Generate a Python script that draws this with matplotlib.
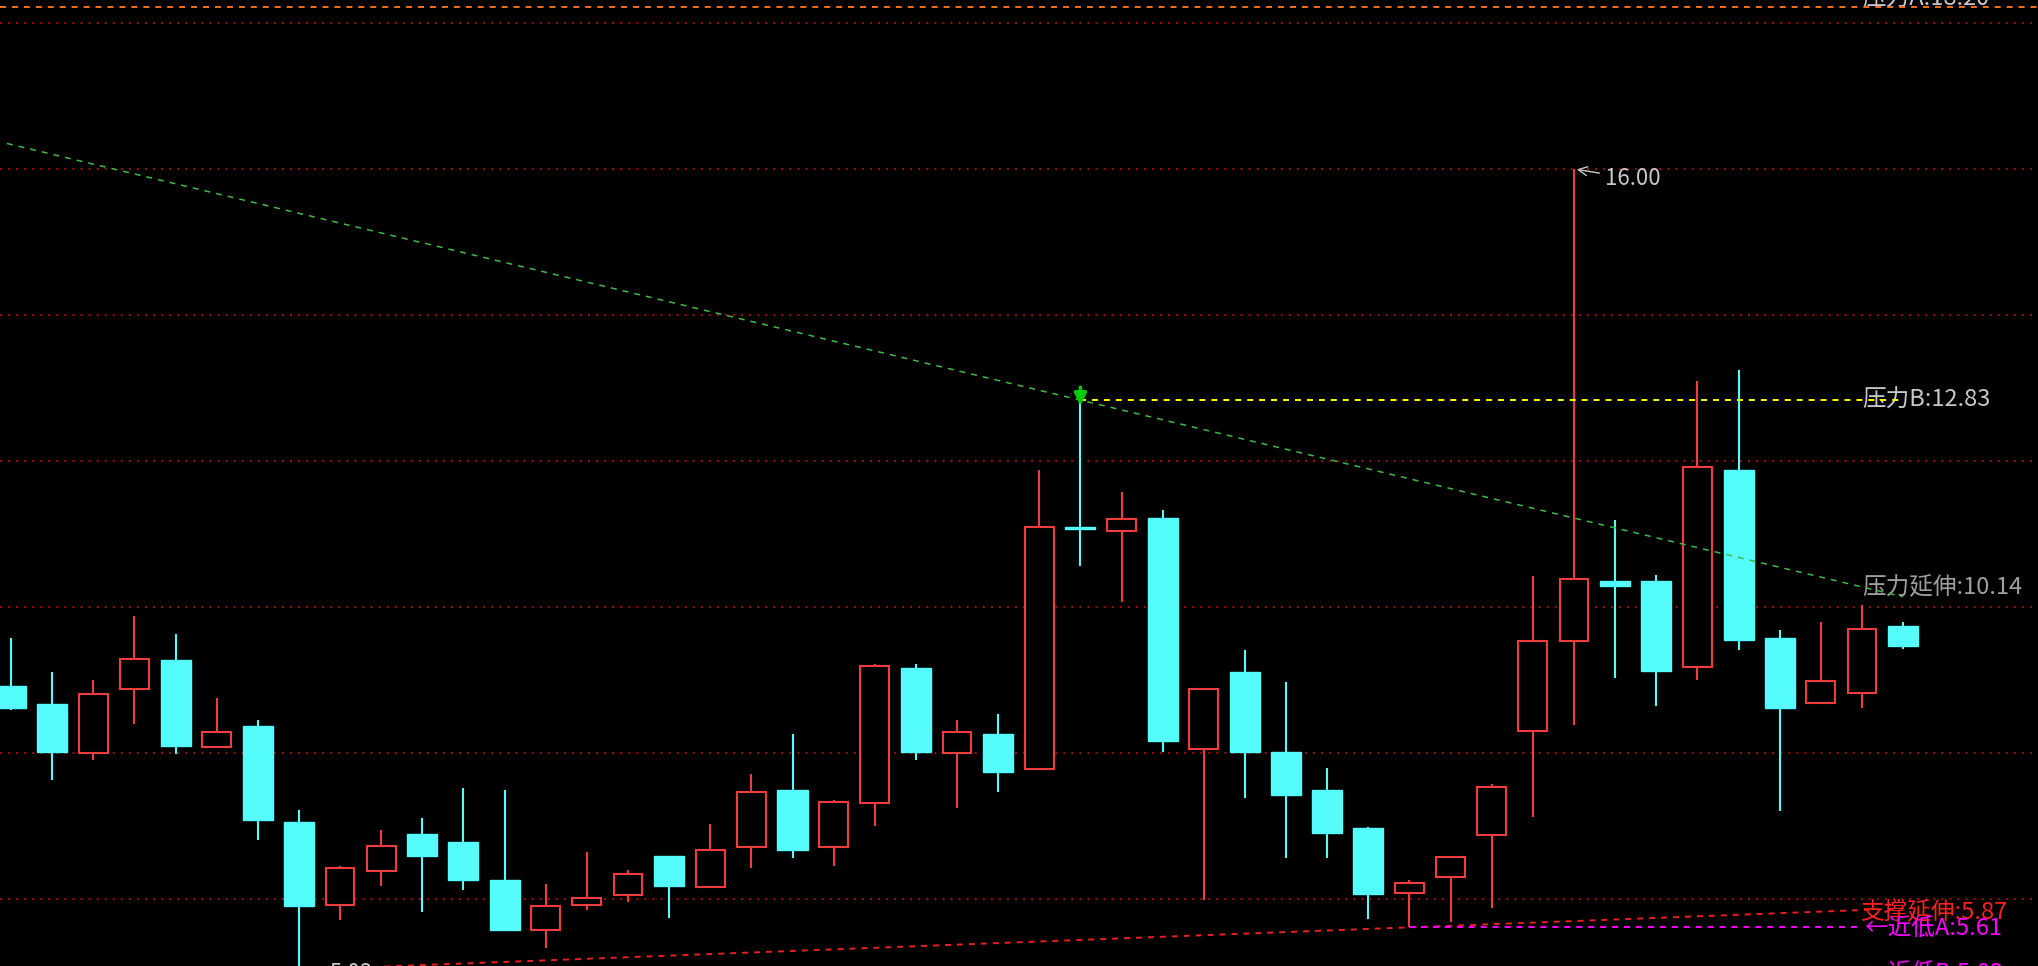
import numpy as np
import matplotlib
matplotlib.use("Agg")
import matplotlib.pyplot as plt

plt.rcParams['font.family'] = ['Noto Sans CJK SC', 'DejaVu Sans']
plt.rcParams['lines.scale_dashes'] = False

# daily candles
opens = [8.92, 8.67, 8.00, 8.88, 9.27, 8.08, 8.37, 7.05, 5.92, 6.38,
         6.89, 6.78, 6.26, 5.58, 5.92, 6.05, 6.59, 6.16, 6.71, 7.49,
         6.71, 7.32, 9.16, 8.00, 8.26, 7.78, 11.08, 11.04, 11.22, 8.05,
         9.11, 8.01, 7.49, 6.97, 6.08, 6.30, 6.87, 8.30, 9.53, 10.36,
         10.36, 9.18, 11.88, 9.58, 8.68, 8.82, 9.74]
highs = [9.58, 9.11, 9.00, 9.88, 9.63, 8.75, 8.45, 7.22, 6.45, 6.95,
         7.11, 7.52, 7.49, 6.21, 6.64, 6.40, 6.59, 7.03, 7.71, 8.26,
         7.36, 9.22, 9.22, 8.45, 8.53, 11.88, 12.83, 11.58, 11.33, 8.88,
         9.41, 8.97, 7.79, 6.99, 6.26, 6.58, 7.58, 10.42, 16.00, 11.19,
         10.44, 13.10, 13.25, 9.69, 9.79, 10.03, 9.79]
lows = [8.59, 7.63, 7.90, 8.40, 7.99, 8.08, 6.81, 5.03, 5.71, 6.18,
        5.82, 6.12, 5.56, 5.33, 5.85, 5.96, 5.74, 6.16, 6.42, 6.56,
        6.45, 7.00, 7.90, 7.25, 7.47, 7.78, 10.56, 10.07, 8.02, 5.99,
        7.38, 6.56, 6.56, 5.72, 5.61, 5.69, 5.88, 7.12, 8.39, 9.03,
        8.65, 9.00, 9.41, 7.20, 8.68, 8.62, 9.42]
closes = [8.62, 8.01, 8.81, 9.29, 8.10, 8.29, 7.08, 5.90, 6.42, 6.73,
          6.59, 6.26, 5.58, 5.90, 6.01, 6.34, 6.18, 6.67, 7.47, 6.67,
          7.33, 9.19, 8.01, 8.29, 7.74, 11.10, 11.07, 11.21, 8.16, 8.88,
          8.02, 7.42, 6.90, 6.07, 6.22, 6.58, 7.54, 9.54, 10.38, 10.29,
          9.12, 11.92, 9.55, 8.62, 8.99, 9.70, 9.47]

grid_levels = [18, 16, 14, 12, 10, 8, 6]

# drawn lines (x = candle index)
trend_x = [-0.1, 46]
trend_y = [16.35, 10.14]
support_x = [7, 46]
support_y = [5.03, 5.87]
pressure_a = 18.22
pressure_b = 12.83
pressure_b_from = 26
low_a = 5.61
low_a_from = 34
high_idx, high_val = 38, 16.00

RED = '#f03c3c'
CYAN = '#54fcfc'
GRAY = '#c8c8c8'

o = np.array(opens); h = np.array(highs); l = np.array(lows); c = np.array(closes)
x = np.arange(len(o))
up = c >= o
top = np.maximum(o, c)
bot = np.minimum(o, c)
height = np.maximum(top - bot, 0.02)

fig = plt.figure(figsize=(20.38, 9.66), dpi=100, facecolor='black')
ax = fig.add_axes([0, 0, 1, 1])
ax.set_facecolor('black')
ax.set_xlim(-0.2674, 49.28)
ax.set_ylim(5.082, 18.315)
ax.axis('off')

for g in grid_levels:
    ax.axhline(g, color='#a01010', lw=1.4, dashes=(1.4, 4.4), zorder=1)

# wicks
ax.vlines(x[~up], l[~up], h[~up], color=CYAN, lw=1.5, zorder=3)
ax.vlines(x[up], top[up], h[up], color=RED, lw=1.5, zorder=3)
ax.vlines(x[up], l[up], bot[up], color=RED, lw=1.5, zorder=3)

# bodies
ax.bar(x[~up], height[~up], bottom=bot[~up], width=0.73,
       facecolor=CYAN, edgecolor=CYAN, lw=1.0, zorder=4)
ax.bar(x[up], height[up], bottom=bot[up], width=0.70,
       facecolor='black', edgecolor=RED, lw=1.5, zorder=4)

# trend / pressure / support lines
ax.plot(trend_x, trend_y, color='#40b848', lw=1.1, dashes=(4.3, 4.3), zorder=5)
ax.plot([pressure_b_from, 46], [pressure_b, pressure_b], color='#ffff00',
        lw=1.4, dashes=(4.3, 4.3), zorder=5)
ax.plot(support_x, support_y, color='#e82020', lw=1.4, dashes=(4.3, 4.3), zorder=5)
ax.plot([low_a_from, 45], [low_a, low_a], color='#ff00ff', lw=1.4,
        dashes=(4.3, 4.3), zorder=5)
ax.axhline(pressure_a, color='#f07020', lw=1.4, dashes=(4.3, 4.3), zorder=5)

# marker on the pressure point
ax.annotate('', xy=(pressure_b_from, pressure_b - 0.11),
            xytext=(pressure_b_from, pressure_b + 0.22),
            arrowprops=dict(arrowstyle='-|>', color='#00cc00', lw=2.5,
                            mutation_scale=18), zorder=6)

# labels
lx = 45.0
ax.text(lx, 18.33, '压力A:18.20', color=GRAY, fontsize=17, va='center', ha='left')
ax.text(lx, pressure_b, '压力B:12.83', color=GRAY, fontsize=17, va='center', ha='left')
ax.text(lx, 10.27, '压力延伸:10.14', color='#a0a0a0', fontsize=17, va='center', ha='left')
ax.text(lx - 0.05, 5.82, '支撑延伸:5.87', color='#ff2020', fontsize=17, va='center', ha='left')
ax.text(lx + 0.05, 5.58, '←近低A:5.61', color='#ff00ff', fontsize=17, va='center', ha='left')
ax.text(lx + 0.05, 4.97, '←近低B:5.03', color='#ff00ff', fontsize=17, va='center', ha='left')
ax.annotate('16.00', xy=(high_idx, high_val), xytext=(38.75, 15.87),
            color=GRAY, fontsize=16, va='center', ha='left',
            arrowprops=dict(arrowstyle='->', color=GRAY, lw=1.0))
ax.text(7.75, 4.98, '5.03', color=GRAY, fontsize=16, va='center', ha='left')

fig.savefig('out.png', dpi=100, facecolor='black')
